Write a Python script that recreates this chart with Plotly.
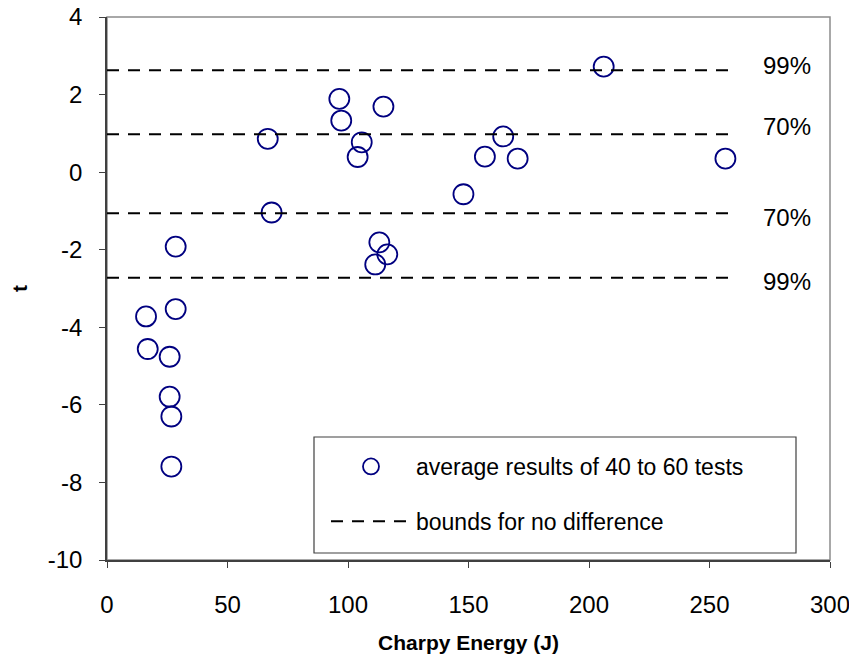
import plotly.graph_objects as go

# Data
charpy_energy = [96.4, 97.2, 114.7, 66.7, 105.7, 104.0, 156.8, 147.9, 68.3, 28.5,
                 113.0, 116.3, 111.3, 206.1, 164.4, 170.4, 256.6,
                 16.2, 28.5, 16.9, 26.0, 26.0, 26.7, 26.7]
t_values = [1.89, 1.33, 1.69, 0.86, 0.77, 0.39, 0.40, -0.57, -1.04, -1.92,
            -1.81, -2.12, -2.38, 2.72, 0.92, 0.35, 0.35,
            -3.72, -3.53, -4.56, -4.76, -5.79, -6.30, -7.59]

bound_levels = [2.63, 0.98, -1.06, -2.72]
bound_labels = ["99%", "70%", "70%", "99%"]
bound_label_y = [2.76, 1.17, -1.18, -2.83]
bound_x_range = [0, 260]

x_ticks = [0, 50, 100, 150, 200, 250, 300]
y_ticks = [-10, -8, -6, -4, -2, 0, 2, 4]

FONT = "Liberation Sans, Arial, sans-serif"

PW, PH = 723, 543  # plot area size in px

fig = go.Figure()

# dashed bounds as one trace with gaps
bx, by = [], []
for lvl in bound_levels:
    bx += [bound_x_range[0], bound_x_range[1], None]
    by += [lvl, lvl, None]

fig.add_trace(go.Scatter(
    x=charpy_energy, y=t_values, mode="markers",
    name="average results of 40 to 60 tests", legendgroup="a",
    marker=dict(symbol="circle-open", size=20, color="#000080",
                line=dict(width=1.8, color="#000080")),
))
fig.add_trace(go.Scatter(
    x=bx, y=by, mode="lines", name="bounds for no difference", legendgroup="b",
    line=dict(color="black", width=2, dash="12px,9px"),
))

for lab, ly in zip(bound_labels, bound_label_y):
    fig.add_annotation(x=282, y=ly, xref="x", yref="y", text=lab,
                       showarrow=False, font=dict(family=FONT, size=24, color="black"),
                       xanchor="center", yanchor="middle")

# legend box (decoration)
fig.add_shape(type="rect", xref="paper", yref="paper",
              x0=207 / PW, x1=689 / PW,
              y0=7 / PH, y1=123 / PH,
              line=dict(color="#404040", width=1.2), fillcolor="white", layer="below")
# plot area frame (gray)
fig.add_shape(type="rect", xref="paper", yref="paper", x0=0, x1=1, y0=0, y1=1,
              line=dict(color="#8c8c8c", width=1.5), layer="below")

fig.update_layout(
    width=857, height=666,
    margin=dict(l=99, r=857 - 99 - PW, t=9, b=666 - 9 - PH, autoexpand=False),
    paper_bgcolor="white", plot_bgcolor="white",
    font=dict(family=FONT, color="black"),
    showlegend=True,
    legend=dict(x=219 / PW, y=115 / PH, xanchor="left", yanchor="top",
                bgcolor="rgba(0,0,0,0)", borderwidth=0,
                font=dict(family=FONT, size=23, color="black"),
                itemwidth=80, traceorder="grouped", tracegroupgap=22),
    xaxis=dict(range=[0, 300], tickvals=x_ticks, ticktext=[str(v) for v in x_ticks],
               automargin=False, ticklabeloverflow="allow",
               showgrid=False, zeroline=False, showline=True, linecolor="#404040",
               linewidth=1.5, ticks="outside", ticklen=6, tickcolor="#404040",
               tickfont=dict(family=FONT, size=24, color="black"),
               ticklabelstandoff=16,
               title=dict(text="<b>Charpy Energy (J)</b>", font=dict(family=FONT, size=21),
                          standoff=19)),
    yaxis=dict(range=[-10, 4], tickvals=y_ticks, ticktext=[str(v) for v in y_ticks],
               automargin=False, ticklabeloverflow="allow",
               showgrid=False, zeroline=False, showline=True, linecolor="#404040",
               linewidth=1.5, ticks="outside", ticklen=6, tickcolor="#404040",
               tickfont=dict(family=FONT, size=24, color="black"),
               ticklabelstandoff=12,
               title=dict(text="<b>t</b>", font=dict(family=FONT, size=21), standoff=54)),
)

fig.write_html("out.html")
